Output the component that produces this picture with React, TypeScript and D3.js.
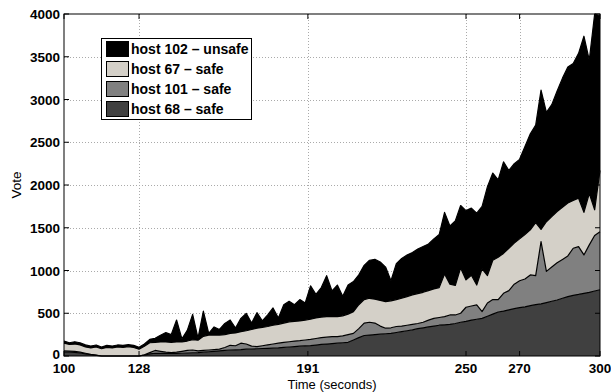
import React from "react";
import * as d3 from "d3";

// time axis, one sample every 2 s
const times = [
  100, 102, 104, 106, 108, 110, 112, 114, 116, 118, 120, 122, 124, 126, 128, 130, 132, 134, 136, 138,
  140, 142, 144, 146, 148, 150, 152, 154, 156, 158, 160, 162, 164, 166, 168, 170, 172, 174, 176, 178,
  180, 182, 184, 186, 188, 190, 192, 194, 196, 198, 200, 202, 204, 206, 208, 210, 212, 214, 216, 218,
  220, 222, 224, 226, 228, 230, 232, 234, 236, 238, 240, 242, 244, 246, 248, 250, 252, 254, 256, 258,
  260, 262, 264, 266, 268, 270, 272, 274, 276, 278, 280, 282, 284, 286, 288, 290, 292, 294, 296, 298, 300,
];

const host68 = [
  45, 45, 42, 35, 25, 15, 8, 0, 0, 0, 0, 0, 0, 0, 0, 10, 25, 32, 30, 30,
  30, 30, 32, 35, 38, 40, 45, 50, 55, 60, 65, 70, 72, 75, 80, 82, 85, 88, 90, 92,
  95, 100, 105, 110, 115, 118, 122, 128, 135, 140, 145, 150, 155, 160, 187, 215, 240, 245, 250, 255,
  260, 265, 275, 285, 295, 305, 320, 330, 340, 350, 360, 365, 370, 380, 395, 405, 420, 430, 440, 465,
  490, 515, 525, 540, 555, 565, 575, 590, 600, 610, 625, 640, 655, 675, 695, 710, 720, 733, 745, 760, 775,
];

const host101 = [
  15, 13, 13, 10, 7, 5, 2, 0, 0, 0, 0, 0, 0, 0, 0, 5, 15, 33, 25, 15,
  10, 15, 23, 30, 32, 20, 20, 20, 20, 20, 35, 55, 48, 75, 60, 33, 25, 32, 40, 48,
  55, 60, 62, 65, 65, 69, 73, 77, 80, 80, 81, 76, 80, 90, 78, 105, 145, 150, 135, 95,
  65, 65, 70, 65, 65, 65, 60, 65, 80, 90, 90, 95, 110, 100, 105, 165, 165, 167, 79, 155,
  170, 145, 208, 225, 285, 315, 325, 358, 340, 727, 365, 400, 435, 455, 475, 550, 560, 449, 555, 650, 679,
];

const host67 = [
  90, 77, 85, 85, 73, 75, 95, 85, 100, 95, 105, 100, 108, 100, 80, 100, 115, 95, 110, 120,
  120, 120, 110, 110, 120, 125, 165, 175, 170, 165, 150, 140, 150, 135, 155, 195, 215, 215, 215, 220,
  220, 225, 233, 230, 230, 233, 235, 240, 240, 240, 234, 234, 235, 240, 254, 280, 275, 280, 280, 300,
  311, 315, 315, 325, 335, 345, 350, 350, 345, 345, 350, 500, 360, 345, 530, 320, 360, 233, 501, 320,
  460, 495, 467, 495, 480, 490, 520, 527, 620, 143, 580, 590, 600, 610, 620, 560, 565, 498, 600, 300, 716,
];

const host102 = [
  25, 20, 27, 25, 25, 22, 24, 20, 25, 22, 24, 25, 25, 25, 21, 25, 40, 47, 77, 108,
  90, 256, 35, 125, 297, 25, 296, 20, 95, 65, 130, 156, 57, 155, 204, 76, 182, 75, 135, 202,
  75, 215, 240, 195, 250, 200, 390, 275, 345, 480, 300, 370, 230, 340, 351, 350, 400, 445, 465, 450,
  404, 235, 420, 465, 485, 495, 520, 535, 545, 585, 620, 720, 680, 755, 730, 810, 785, 840, 730, 1040,
  1020, 905, 1070, 910, 930, 930, 1030, 1125, 1140, 1630, 1280, 1310, 1410, 1510, 1590, 1600, 1695, 2060, 1560, 2290, 1810,
];

const xTicks = [100, 128, 191, 250, 270, 300];
const yTicks = [0, 500, 1000, 1500, 2000, 2500, 3000, 3500, 4000];

const seriesKeys = ["host68", "host101", "host67", "host102"];
const legendLabels = ["host 102 \u2013 unsafe", "host 67 \u2013 safe", "host 101 \u2013 safe", "host 68 \u2013 safe"];
const legendKeys = ["host102", "host67", "host101", "host68"];

const colors: Record<string, string> = {
  host68: "#404040",
  host101: "#808080",
  host67: "#d4d0c8",
  host102: "#000000",
};

const W = 611;
const H = 392;
const margin = { left: 64, right: 11, top: 14, bottom: 36 };
const font = "'Liberation Sans', Arial, Helvetica, sans-serif";

export default function App() {
  const rows = times.map((t, i) => ({
    t,
    host68: host68[i],
    host101: host101[i],
    host67: host67[i],
    host102: host102[i],
  }));

  const x = d3.scaleLinear().domain([100, 300]).range([margin.left, W - margin.right]);
  const y = d3.scaleLinear().domain([0, 4000]).range([H - margin.bottom, margin.top]);

  const stacked = d3.stack<any>().keys(seriesKeys)(rows);
  const area = d3
    .area<any>()
    .x((d) => x(d.data.t))
    .y0((d) => y(d[0]))
    .y1((d) => y(Math.min(d[1], 4000)));
  const topLine = d3
    .line<any>()
    .x((d) => x(d.data.t))
    .y((d) => y(Math.min(d[1], 4000)));

  const [x0, x1] = x.range();
  const [yb, yt] = y.range();

  return (
    <svg width={W} height={H} style={{ position: "absolute", left: 0, top: 0, background: "#fff" }}>
      {/* grid */}
      <g stroke="#aaa" strokeWidth={1} strokeDasharray="1,2">
        {yTicks.slice(1, -1).map((v) => (
          <line key={"gy" + v} x1={x0} x2={x1} y1={Math.round(y(v)) + 0.5} y2={Math.round(y(v)) + 0.5} />
        ))}
        {xTicks.slice(1, -1).map((v) => (
          <line key={"gx" + v} x1={Math.round(x(v)) + 0.5} x2={Math.round(x(v)) + 0.5} y1={yt} y2={yb} />
        ))}
      </g>

      {/* stacked areas */}
      {stacked.map((s) => (
        <path key={s.key} d={area(s) || ""} fill={colors[s.key]} stroke="none" />
      ))}
      {stacked.map((s) => (
        <path key={"l" + s.key} d={topLine(s) || ""} fill="none" stroke="#000" strokeWidth={1.2} strokeLinejoin="round" />
      ))}

      {/* axes box */}
      <rect x={x0} y={yt} width={x1 - x0} height={yb - yt} fill="none" stroke="#000" strokeWidth={1} />
      <g stroke="#000" strokeWidth={1}>
        {yTicks.map((v) => (
          <g key={"ty" + v}>
            <line x1={x0} x2={x0 + 5} y1={y(v)} y2={y(v)} />
            <line x1={x1} x2={x1 - 5} y1={y(v)} y2={y(v)} />
          </g>
        ))}
        {xTicks.map((v) => (
          <g key={"tx" + v}>
            <line x1={x(v)} x2={x(v)} y1={yb} y2={yb - 5} />
            <line x1={x(v)} x2={x(v)} y1={yt} y2={yt + 5} />
          </g>
        ))}
      </g>

      {/* tick labels */}
      <g fontFamily={font} fontWeight="bold" fontSize={13.5} fill="#000">
        {yTicks.map((v) => (
          <text key={"ly" + v} x={x0 - 4} y={y(v) + (v === 0 ? 3 : 5)} textAnchor="end">
            {v}
          </text>
        ))}
        {xTicks.map((v) => (
          <text key={"lx" + v} x={x(v)} y={yb + 17} textAnchor="middle">
            {v}
          </text>
        ))}
      </g>

      {/* axis labels */}
      <text x={(x0 + x1) / 2} y={H - 3} textAnchor="middle" fontFamily={font} fontSize={13}>
        Time (seconds)
      </text>
      <text
        transform={`translate(21, ${(yt + yb) / 2}) rotate(-90)`}
        textAnchor="middle"
        fontFamily={font}
        fontSize={13.5}
      >
        Vote
      </text>

      {/* legend */}
      <g>
        <rect x={101.5} y={38.5} width={150} height={81} fill="#fff" stroke="#000" strokeWidth={1} />
        {legendKeys.map((k, i) => (
          <g key={"lg" + k} transform={`translate(0, ${i * 20})`}>
            <rect x={106.5} y={41.5} width={22} height={15} fill={colors[k]} stroke="#000" strokeWidth={1} />
            <text x={131} y={54} fontFamily={font} fontWeight="bold" fontSize={14}>
              {legendLabels[i]}
            </text>
          </g>
        ))}
      </g>
    </svg>
  );
}
